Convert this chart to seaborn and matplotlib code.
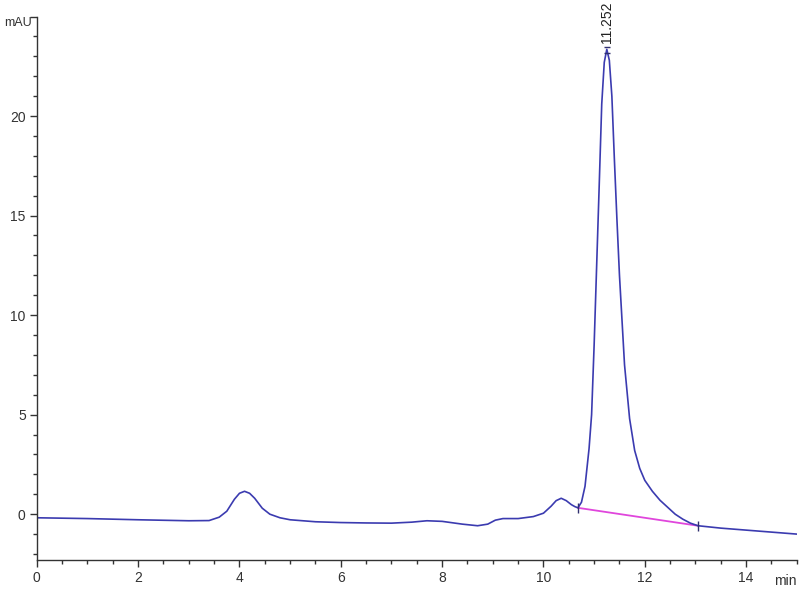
import numpy as np
import pandas as pd
import matplotlib
matplotlib.use('Agg')
import matplotlib.pyplot as plt
from matplotlib.ticker import MultipleLocator
import seaborn as sns

sns.set_style('ticks')
plt.rcParams['font.family'] = ['Liberation Sans', 'DejaVu Sans']

# chromatogram trace (time in min, signal in mAU)
time_min = [0.0, 1.0, 2.0, 3.0, 3.4, 3.6, 3.75, 3.9, 4.0, 4.1, 4.2, 4.3, 4.45, 4.6,
            4.8, 5.0, 5.5, 6.0, 6.5, 7.0, 7.4, 7.7, 8.0, 8.4, 8.7, 8.9, 9.05, 9.2,
            9.5, 9.8, 10.0, 10.15, 10.25, 10.35, 10.45, 10.55, 10.62, 10.68, 10.75,
            10.82, 10.9, 10.95, 11.0, 11.05, 11.1, 11.15, 11.2, 11.25, 11.3, 11.35,
            11.4, 11.45, 11.5, 11.6, 11.7, 11.8, 11.9, 12.0, 12.15, 12.3, 12.45,
            12.6, 12.75, 12.9, 13.05, 13.5, 14.0, 14.5, 15.0]
signal_mau = [-0.18, -0.22, -0.28, -0.33, -0.32, -0.15, 0.15, 0.75, 1.05, 1.15, 1.05,
              0.8, 0.3, 0.0, -0.18, -0.28, -0.38, -0.42, -0.44, -0.45, -0.4, -0.33,
              -0.36, -0.5, -0.58, -0.5, -0.3, -0.22, -0.22, -0.12, 0.05, 0.4, 0.68,
              0.8, 0.68, 0.48, 0.38, 0.32, 0.6, 1.4, 3.3, 5.0, 8.5, 12.5, 16.5, 20.6,
              22.7, 23.35, 22.8, 21.0, 17.8, 14.8, 12.0, 7.5, 4.8, 3.2, 2.3, 1.7, 1.15,
              0.7, 0.35, 0.0, -0.25, -0.45, -0.58, -0.7, -0.8, -0.9, -1.0]

# integrated peak: start, apex, end
peak_start = (10.68, 0.32)
peak_end = (13.05, -0.58)
peak_apex = (11.252, 23.35)
peak_label = '11.252'

df = pd.DataFrame({'time': time_min, 'signal': signal_mau})

fig = plt.figure(figsize=(8, 6), dpi=100)
ax = fig.add_axes([0.046, 0.0667, 0.95, 0.9058])

line_col = '#3b3bb0'
sns.lineplot(data=df, x='time', y='signal', ax=ax, color=line_col, lw=1.2)

# integration baseline
ax.plot([peak_start[0], peak_end[0]], [peak_start[1], peak_end[1]],
        color='#e046dc', lw=1.3, zorder=1)
# peak event marks
ax.plot([peak_start[0], peak_end[0]], [peak_start[1], peak_end[1]], ls='none',
        marker='|', ms=7, mew=1, color='#303070')
ax.plot([peak_apex[0]] * 2, [peak_apex[1] - 0.2, peak_apex[1] + 0.1], ls='none',
        marker='_', ms=5, mew=1, color='#303070')
ax.text(peak_apex[0], peak_apex[1] + 0.3, peak_label, rotation=90,
        ha='center', va='bottom', fontsize=10, color='#222222')

ax.set_xlim(0, 15)
ax.set_ylim(-2.3, 25)
ax.xaxis.set_major_locator(MultipleLocator(2))
ax.xaxis.set_minor_locator(MultipleLocator(0.5))
ax.set_yticks([0, 5, 10, 15, 20, 25])
ax.set_yticklabels(['0', '5', '10', '15', '20', ''])
ax.yaxis.set_minor_locator(MultipleLocator(1))
ax.tick_params(which='major', length=5, width=1, color='#333333',
               labelsize=10, labelcolor='#333333', pad=3)
ax.tick_params(which='minor', length=3, width=1, color='#333333')
ax.set_xlabel('')
ax.set_ylabel('')
sns.despine(ax=ax)
for s in ['left', 'bottom']:
    ax.spines[s].set_color('#333333')
    ax.spines[s].set_linewidth(1)

ax.text(-0.007, 1.0, 'mAU', transform=ax.transAxes, ha='right', va='top',
        fontsize=9, color='#333333')
ax.text(1.0, -0.026, 'min', transform=ax.transAxes, ha='right', va='top',
        fontsize=10, color='#333333')

fig.savefig('out.png', dpi=100)
